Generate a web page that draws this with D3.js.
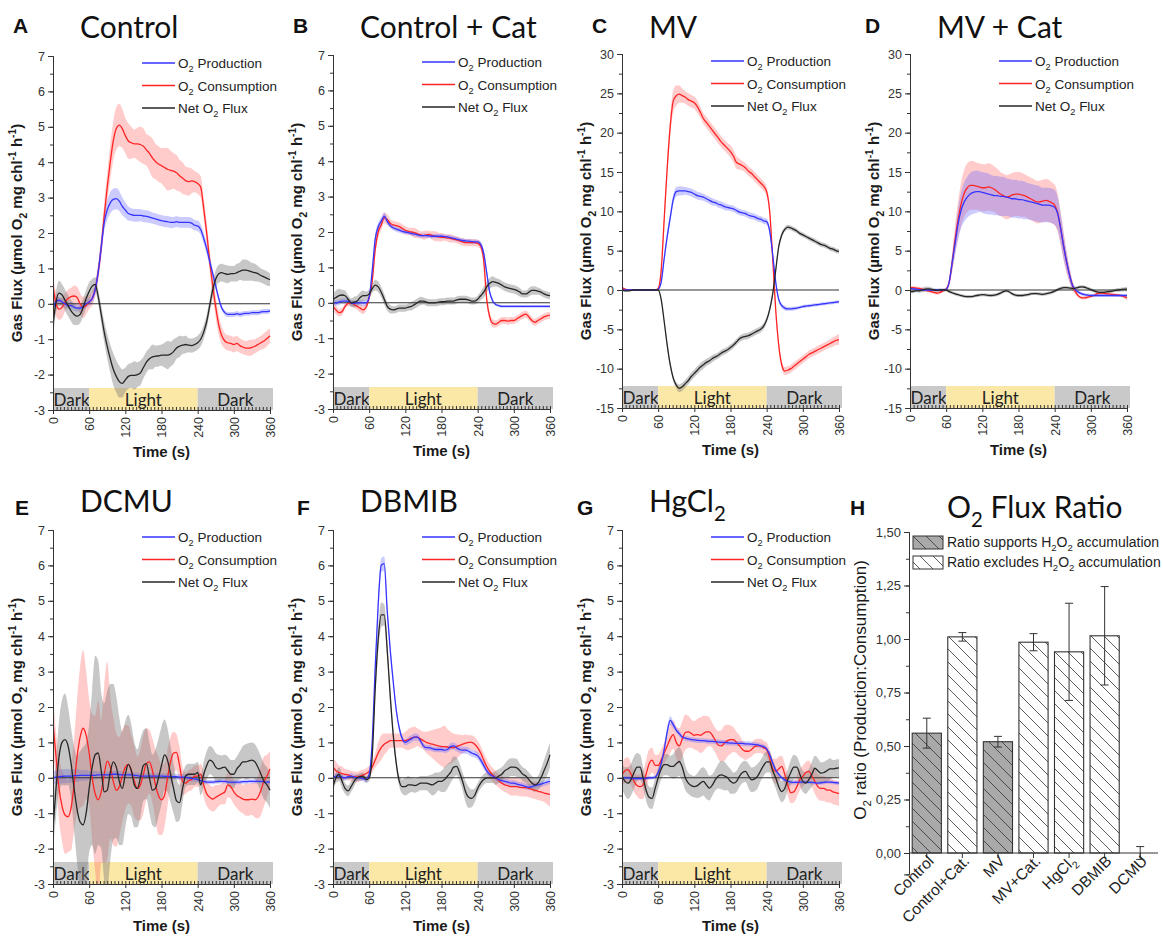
<!DOCTYPE html>
<html><head><meta charset="utf-8">
<script src="https://cdn.jsdelivr.net/npm/d3@7/dist/d3.min.js"></script>
<style>html,body{margin:0;padding:0;background:#fff;}svg{display:block;}</style>
</head><body>
<svg id="chart" width="1163" height="940"></svg>
<script>
// ---------- DATA ----------
const T = d3.range(0, 361, 5);            // time (s), 73 points
const xTickValues = [0, 60, 120, 180, 240, 300, 360];
const phaseLabels = ['Dark', 'Light', 'Dark'];
const phaseStart = [0, 60, 240];
const phaseEnd = [60, 240, 360];
const legendLabels = ['O_{2} Production', 'O_{2} Consumption', 'Net O_{2} Flux'];

// Panel A – Control
const A_prod = [-0.1,0.05,0.1,0.05,0,-0.05,-0.05,-0.1,-0.12,-0.12,-0.08,0,
 0.05,0.15,0.4,0.9,1.6,2.3,2.65,2.85,2.95,2.97,2.9,2.75,
 2.65,2.55,2.52,2.5,2.5,2.5,2.48,2.47,2.45,2.42,2.4,2.37,
 2.35,2.33,2.32,2.3,2.3,2.32,2.3,2.3,2.3,2.3,2.28,2.22,
 2.2,2.1,1.85,1.55,1.2,0.85,0.5,0.15,-0.12,-0.25,-0.3,-0.3,
 -0.3,-0.28,-0.3,-0.28,-0.27,-0.27,-0.25,-0.25,-0.25,-0.23,-0.22,-0.22,
 -0.2];
const A_prodSd = [0.12,0.1,0.1,0.1,0.1,0.1,0.1,0.1,0.1,0.1,0.1,0.1,
 0.1,0.12,0.15,0.2,0.25,0.25,0.28,0.3,0.3,0.3,0.28,0.25,
 0.22,0.2,0.18,0.18,0.18,0.17,0.17,0.17,0.17,0.16,0.16,0.16,
 0.16,0.16,0.16,0.16,0.15,0.15,0.15,0.15,0.15,0.15,0.15,0.15,
 0.15,0.15,0.15,0.15,0.15,0.12,0.1,0.08,0.07,0.07,0.07,0.07,
 0.07,0.07,0.07,0.07,0.07,0.07,0.07,0.07,0.07,0.07,0.07,0.07,
 0.07];
const A_cons = [0.5,0,-0.15,-0.1,0.05,0.15,0.2,0.22,0.18,0,-0.1,-0.05,
 0.05,0.15,0.4,0.9,1.6,2.5,3.3,4.0,4.6,4.95,5.05,4.95,
 4.75,4.6,4.55,4.52,4.52,4.5,4.45,4.35,4.25,4.12,4.02,3.95,
 3.9,3.85,3.8,3.77,3.75,3.7,3.62,3.55,3.48,3.45,3.47,3.45,
 3.4,3.3,2.7,2.0,1.2,0.5,-0.1,-0.6,-0.9,-1.05,-1.1,-1.12,
 -1.15,-1.12,-1.18,-1.22,-1.25,-1.25,-1.23,-1.2,-1.15,-1.1,-1.05,-0.98,
 -0.9];
const A_consSd = [0.2,0.35,0.3,0.3,0.25,0.25,0.25,0.3,0.3,0.3,0.3,0.25,
 0.2,0.2,0.2,0.25,0.3,0.35,0.4,0.5,0.55,0.6,0.6,0.55,
 0.5,0.5,0.45,0.4,0.45,0.5,0.5,0.45,0.5,0.55,0.5,0.5,
 0.5,0.55,0.6,0.55,0.5,0.5,0.45,0.45,0.4,0.4,0.35,0.3,
 0.3,0.3,0.3,0.3,0.3,0.3,0.3,0.28,0.25,0.22,0.22,0.22,
 0.22,0.22,0.2,0.2,0.2,0.22,0.22,0.2,0.2,0.2,0.22,0.22,
 0.2];
const A_net = [-0.6,0.05,0.3,0.25,0.1,-0.05,-0.2,-0.3,-0.35,-0.3,-0.1,0.15,
 0.35,0.5,0.55,0.2,-0.3,-0.8,-1.2,-1.55,-1.85,-2.05,-2.2,-2.25,
 -2.15,-2.05,-2.02,-2.02,-2.0,-1.95,-1.8,-1.65,-1.55,-1.5,-1.48,-1.47,
 -1.45,-1.45,-1.45,-1.42,-1.35,-1.25,-1.2,-1.17,-1.15,-1.17,-1.18,-1.15,
 -1.1,-1.0,-0.8,-0.5,-0.05,0.4,0.7,0.85,0.88,0.85,0.83,0.85,
 0.85,0.88,0.92,0.95,0.95,0.93,0.9,0.88,0.85,0.8,0.76,0.72,
 0.68];
const A_netSd = [0.4,0.3,0.35,0.3,0.3,0.3,0.3,0.3,0.25,0.25,0.25,0.25,
 0.25,0.2,0.2,0.2,0.25,0.3,0.35,0.4,0.45,0.45,0.45,0.4,
 0.35,0.35,0.35,0.4,0.35,0.35,0.3,0.3,0.3,0.35,0.3,0.3,
 0.3,0.35,0.4,0.35,0.35,0.3,0.3,0.25,0.25,0.2,0.2,0.2,
 0.2,0.2,0.2,0.2,0.2,0.22,0.25,0.25,0.25,0.25,0.25,0.22,
 0.22,0.25,0.25,0.3,0.3,0.28,0.25,0.25,0.22,0.2,0.2,0.2,
 0.18];

// Panel B – Control + Cat
const B_prod = [0,0,0.02,0.05,0.05,0.05,0,-0.02,0,0,0,0,
 0.15,0.9,1.8,2.15,2.3,2.45,2.3,2.18,2.12,2.08,2.05,2.02,
 2.0,1.98,1.96,1.94,1.92,1.9,1.9,1.9,1.89,1.88,1.88,1.88,
 1.88,1.87,1.86,1.84,1.82,1.8,1.78,1.76,1.75,1.74,1.73,1.72,
 1.72,1.65,1.4,0.85,0.3,0.05,-0.05,-0.08,-0.1,-0.1,-0.1,-0.1,
 -0.1,-0.1,-0.1,-0.1,-0.1,-0.1,-0.1,-0.1,-0.1,-0.1,-0.1,-0.1,
 -0.1];
const B_prodSd = [0.08,0.08,0.08,0.08,0.08,0.08,0.08,0.08,0.08,0.08,0.08,0.08,
 0.08,0.1,0.12,0.12,0.12,0.1,0.08,0.07,0.07,0.07,0.07,0.07,
 0.06,0.06,0.06,0.06,0.06,0.06,0.06,0.06,0.06,0.06,0.06,0.06,
 0.06,0.06,0.06,0.06,0.06,0.06,0.06,0.06,0.06,0.06,0.06,0.06,
 0.06,0.08,0.1,0.1,0.08,0.05,0.04,0.04,0.04,0.04,0.04,0.04,
 0.04,0.04,0.04,0.04,0.04,0.04,0.04,0.04,0.04,0.04,0.04,0.04,
 0.04];
const B_cons = [-0.1,-0.2,-0.28,-0.25,-0.1,-0.02,0,-0.05,-0.1,-0.15,-0.2,-0.12,
 0.15,0.6,1.5,2.0,2.2,2.4,2.35,2.25,2.2,2.18,2.15,2.1,
 2.05,2.02,2.0,1.98,1.95,1.92,1.9,1.92,1.93,1.9,1.88,1.86,
 1.85,1.85,1.83,1.82,1.8,1.78,1.75,1.72,1.7,1.7,1.7,1.7,
 1.68,1.6,1.2,0.1,-0.4,-0.58,-0.6,-0.55,-0.5,-0.5,-0.52,-0.5,
 -0.5,-0.45,-0.4,-0.35,-0.32,-0.4,-0.5,-0.55,-0.5,-0.45,-0.4,-0.37,
 -0.35];
const B_consSd = [0.12,0.12,0.1,0.1,0.08,0.08,0.08,0.1,0.1,0.12,0.12,0.1,
 0.1,0.12,0.15,0.15,0.15,0.15,0.15,0.12,0.12,0.12,0.12,0.12,
 0.12,0.1,0.12,0.14,0.12,0.1,0.12,0.12,0.1,0.12,0.14,0.12,
 0.12,0.1,0.1,0.12,0.1,0.1,0.1,0.1,0.1,0.1,0.1,0.1,
 0.1,0.12,0.15,0.15,0.12,0.12,0.1,0.1,0.1,0.1,0.1,0.1,
 0.1,0.1,0.1,0.1,0.1,0.1,0.1,0.1,0.1,0.1,0.1,0.1,
 0.1];
const B_net = [0.1,0.15,0.2,0.22,0.2,0.1,0,0.02,0.05,0.15,0.2,0.2,
 0.25,0.4,0.5,0.45,0.3,0.1,-0.1,-0.18,-0.2,-0.18,-0.15,-0.15,
 -0.15,-0.12,-0.1,-0.05,0,0.05,0.05,0.02,0,0,0,0.02,
 0.03,0.03,0.05,0.05,0.05,0.08,0.1,0.1,0.1,0.08,0.05,0.05,
 0.1,0.2,0.3,0.45,0.55,0.6,0.58,0.55,0.5,0.45,0.42,0.4,
 0.38,0.35,0.3,0.25,0.25,0.3,0.35,0.35,0.33,0.3,0.25,0.22,
 0.2];
const B_netSd = [0.15,0.2,0.2,0.15,0.15,0.12,0.12,0.15,0.15,0.15,0.15,0.12,
 0.12,0.12,0.15,0.15,0.15,0.15,0.12,0.12,0.1,0.1,0.1,0.1,
 0.1,0.1,0.12,0.12,0.12,0.12,0.1,0.1,0.1,0.1,0.1,0.1,
 0.1,0.1,0.1,0.1,0.1,0.1,0.1,0.1,0.1,0.1,0.1,0.1,
 0.1,0.12,0.15,0.15,0.15,0.15,0.12,0.12,0.12,0.12,0.12,0.12,
 0.12,0.12,0.12,0.1,0.1,0.12,0.12,0.12,0.1,0.1,0.1,0.1,
 0.1];

// Panel C – MV
const C_prod = [0,0,0,0,0,0,0,0,0,0,0,0,
 0.1,1.0,4.0,6.8,9.2,11.5,12.5,12.6,12.6,12.6,12.5,12.4,
 12.2,12.0,11.9,11.8,11.6,11.4,11.2,11.1,10.9,10.8,10.6,10.5,
 10.4,10.3,10.1,9.9,9.8,9.7,9.5,9.4,9.3,9.1,9.0,8.8,
 8.7,7.5,4.5,1.0,-1.2,-2.0,-2.3,-2.4,-2.4,-2.35,-2.3,-2.2,
 -2.1,-2.05,-2.0,-1.95,-1.9,-1.85,-1.8,-1.75,-1.7,-1.65,-1.6,-1.55,
 -1.5];
const C_prodSd = [0.1,0.1,0.1,0.1,0.1,0.1,0.1,0.1,0.1,0.1,0.1,0.1,
 0.1,0.3,0.5,0.6,0.6,0.6,0.6,0.6,0.55,0.5,0.5,0.5,
 0.5,0.5,0.5,0.45,0.45,0.45,0.45,0.4,0.45,0.45,0.45,0.4,
 0.4,0.4,0.4,0.4,0.4,0.4,0.4,0.4,0.4,0.4,0.4,0.4,
 0.4,0.4,0.4,0.3,0.3,0.3,0.3,0.25,0.25,0.25,0.2,0.2,
 0.2,0.2,0.2,0.2,0.2,0.2,0.2,0.2,0.2,0.2,0.2,0.2,
 0.2];
const C_cons = [0.3,0.1,0,0,0,0,0,0,0,0,0,0,
 0.2,2.5,9.0,15.5,20.8,24.0,24.7,24.9,24.7,24.5,24.2,24.0,
 23.8,23.3,22.6,21.8,21.3,20.8,20.3,19.8,19.3,18.8,18.4,18.0,
 17.6,17.0,16.2,16.0,15.8,15.5,15.1,14.8,14.4,14.0,13.6,13.2,
 12.5,10.0,4.0,-2.5,-7.0,-9.5,-10.3,-10.2,-10.0,-9.7,-9.4,-9.1,
 -8.8,-8.5,-8.2,-8.0,-7.8,-7.6,-7.4,-7.2,-7.0,-6.8,-6.6,-6.4,
 -6.3];
const C_consSd = [0.2,0.1,0.1,0.1,0.1,0.1,0.1,0.1,0.1,0.1,0.1,0.1,
 0.1,0.5,1.0,1.2,1.3,1.4,1.3,1.1,0.9,0.8,0.8,0.8,
 0.8,0.8,0.7,0.7,0.7,0.7,0.7,0.7,0.7,0.7,0.7,0.7,
 0.8,0.8,0.8,0.7,0.6,0.6,0.6,0.6,0.6,0.6,0.6,0.6,
 0.6,0.6,0.6,0.6,0.6,0.5,0.5,0.5,0.5,0.5,0.5,0.5,
 0.5,0.5,0.5,0.5,0.5,0.5,0.5,0.5,0.5,0.5,0.6,0.6,
 0.7];
const C_net = [0,-0.1,-0.1,-0.05,0,0,0,0,0,0,0,0,
 0,-1.2,-4.0,-7.0,-9.5,-11.2,-12.1,-12.5,-12.3,-11.9,-11.5,-11.0,
 -10.6,-10.2,-9.8,-9.5,-9.2,-9.0,-8.7,-8.5,-8.3,-8.0,-7.8,-7.6,
 -7.3,-7.0,-6.6,-6.2,-6.0,-5.9,-5.8,-5.6,-5.4,-5.2,-5.0,-4.6,
 -3.8,-2.5,-0.5,2.5,5.5,7.0,7.7,8.0,7.9,7.7,7.5,7.2,
 7.0,6.8,6.6,6.4,6.2,6.0,5.8,5.7,5.5,5.3,5.2,5.0,
 4.9];
const C_netSd = [0.1,0.1,0.1,0.1,0.1,0.1,0.1,0.1,0.1,0.1,0.1,0.1,
 0.1,0.2,0.3,0.4,0.4,0.4,0.4,0.5,0.5,0.5,0.5,0.5,
 0.5,0.5,0.5,0.5,0.45,0.45,0.45,0.4,0.4,0.4,0.4,0.4,
 0.4,0.4,0.4,0.4,0.4,0.4,0.4,0.4,0.4,0.4,0.4,0.4,
 0.4,0.4,0.4,0.4,0.4,0.35,0.3,0.3,0.3,0.3,0.3,0.3,
 0.3,0.3,0.3,0.3,0.3,0.3,0.3,0.3,0.3,0.3,0.3,0.3,
 0.3];

// Panel D – MV + Cat
const D_prod = [0.2,0.15,0.1,0.05,0,0,0,0,0,0,0,0,
 0.1,1.0,3.5,6.0,8.5,10.2,11.2,11.8,12.2,12.4,12.5,12.5,
 12.4,12.3,12.2,12.1,12.0,12.0,11.9,11.9,11.8,11.7,11.6,11.6,
 11.5,11.5,11.4,11.3,11.2,11.1,11.0,10.9,10.8,10.8,10.8,10.7,
 10.5,9.7,7.8,5.5,3.5,1.8,0.5,0,-0.3,-0.5,-0.6,-0.65,
 -0.7,-0.7,-0.7,-0.7,-0.7,-0.7,-0.7,-0.7,-0.7,-0.7,-0.7,-0.7,
 -0.7];
const D_prodSd = [0.15,0.15,0.15,0.15,0.15,0.15,0.15,0.15,0.15,0.15,0.15,0.15,
 0.15,0.4,1.0,1.5,2.0,2.3,2.5,2.6,2.7,2.7,2.7,2.6,
 2.6,2.6,2.6,2.5,2.5,2.5,2.5,2.5,2.4,2.4,2.4,2.4,
 2.4,2.4,2.4,2.3,2.3,2.3,2.3,2.3,2.2,2.2,2.2,2.2,
 2.2,2.1,1.9,1.6,1.2,0.8,0.5,0.3,0.2,0.2,0.2,0.2,
 0.2,0.2,0.2,0.2,0.2,0.2,0.2,0.2,0.2,0.2,0.2,0.2,
 0.2];
const D_cons = [0.3,0.3,0.25,0.2,0.1,0,-0.1,-0.2,-0.3,-0.4,-0.3,-0.1,
 0.1,1.0,3.5,6.5,9.0,11.0,12.3,13.0,13.3,13.3,13.2,13.1,
 13.0,13.0,13.1,13.0,12.8,12.5,12.2,12.0,11.8,11.9,12.1,12.2,
 12.2,12.1,12.0,11.8,11.6,11.4,11.2,11.2,11.3,11.4,11.3,11.1,
 10.8,9.8,7.8,5.5,3.5,1.8,0.5,-0.3,-0.8,-1.0,-1.0,-0.9,
 -0.8,-0.7,-0.5,-0.4,-0.4,-0.45,-0.5,-0.55,-0.6,-0.65,-0.7,-0.85,
 -1.0];
const D_consSd = [0.2,0.2,0.2,0.2,0.2,0.2,0.2,0.2,0.2,0.2,0.2,0.2,
 0.2,0.5,1.2,1.8,2.4,2.8,3.0,3.1,3.1,3.1,3.0,3.0,
 3.0,3.0,3.0,3.0,2.9,2.9,2.8,2.8,2.8,2.8,2.8,2.8,
 2.8,2.8,2.7,2.7,2.7,2.7,2.7,2.7,2.7,2.7,2.7,2.6,
 2.6,2.4,2.1,1.8,1.4,1.0,0.6,0.3,0.2,0.2,0.2,0.2,
 0.2,0.2,0.2,0.2,0.2,0.2,0.2,0.2,0.2,0.2,0.2,0.2,
 0.3];
const D_net = [-0.2,-0.2,-0.1,-0.1,0,0.1,0.15,0.1,0,-0.05,0,0,
 0,-0.2,-0.35,-0.5,-0.6,-0.7,-0.8,-0.85,-0.85,-0.8,-0.7,-0.65,
 -0.6,-0.62,-0.68,-0.7,-0.65,-0.55,-0.4,-0.2,-0.1,-0.25,-0.5,-0.65,
 -0.7,-0.7,-0.65,-0.6,-0.5,-0.45,-0.45,-0.5,-0.55,-0.5,-0.4,-0.3,
 -0.15,0.05,0.2,0.3,0.3,0.25,0.2,0.25,0.35,0.4,0.35,0.2,
 0.05,-0.1,-0.25,-0.3,-0.3,-0.25,-0.2,-0.15,-0.05,0,0.05,0.1,
 0.1];
const D_netSd = [0.2,0.2,0.2,0.25,0.3,0.3,0.3,0.25,0.2,0.2,0.2,0.2,
 0.2,0.2,0.2,0.2,0.2,0.2,0.2,0.2,0.2,0.2,0.2,0.2,
 0.2,0.2,0.2,0.2,0.2,0.2,0.2,0.2,0.2,0.2,0.2,0.2,
 0.2,0.2,0.2,0.2,0.2,0.2,0.2,0.2,0.2,0.2,0.2,0.2,
 0.2,0.2,0.2,0.2,0.2,0.2,0.2,0.2,0.2,0.2,0.2,0.2,
 0.2,0.2,0.2,0.2,0.2,0.2,0.2,0.2,0.2,0.25,0.25,0.25,
 0.3];

// Panel E – DCMU
const E_prod = [0,0.02,0.03,0.04,0.05,0.05,0.05,0.06,0.06,0.07,0.07,0.07,
 0.07,0.07,0.07,0.08,0.08,0.08,0.08,0.09,0.1,0.1,0.09,0.08,
 0.08,0.08,0.08,0.07,0.06,0.05,0.05,0.05,0.05,0.05,0.05,0.05,
 0.05,0.04,0.04,0.04,0.03,0.03,0.02,0.02,0.02,0,-0.02,-0.03,
 -0.05,-0.08,-0.1,-0.12,-0.12,-0.12,-0.11,-0.1,-0.1,-0.1,-0.12,-0.12,
 -0.13,-0.12,-0.12,-0.11,-0.11,-0.1,-0.1,-0.1,-0.1,-0.1,-0.11,-0.12,
 -0.12];
const E_prodSd = [0.15,0.2,0.2,0.2,0.2,0.2,0.18,0.18,0.18,0.15,0.15,0.15,
 0.12,0.12,0.12,0.1,0.1,0.1,0.1,0.1,0.1,0.1,0.1,0.1,
 0.08,0.08,0.08,0.08,0.08,0.08,0.08,0.08,0.08,0.08,0.08,0.08,
 0.08,0.08,0.08,0.08,0.08,0.08,0.08,0.08,0.08,0.08,0.08,0.08,
 0.06,0.06,0.06,0.06,0.06,0.06,0.06,0.06,0.06,0.06,0.06,0.06,
 0.06,0.06,0.06,0.06,0.06,0.06,0.06,0.06,0.06,0.06,0.06,0.06,
 0.06];
const E_cons = [1.55,0.6,-0.3,-0.8,-1.05,-1.1,-0.85,-0.2,0.6,1.15,1.4,1.2,
 0.7,0,-0.45,-0.62,-0.4,0.1,0.47,0.3,-0.1,-0.35,-0.25,0.05,
 0.3,0.38,0.2,-0.1,-0.3,-0.2,0.1,0.4,0.45,0.2,-0.2,-0.5,
 -0.62,-0.5,0,0.45,0.7,0.72,0.35,-0.1,-0.15,-0.08,-0.05,0.05,
 0.05,0.1,-0.2,-0.45,-0.55,-0.6,-0.55,-0.5,-0.45,-0.4,-0.2,-0.25,
 -0.4,-0.5,-0.55,-0.6,-0.62,-0.62,-0.6,-0.62,-0.55,-0.35,-0.1,0.05,
 0.25];
const E_consSd = [0.8,0.7,0.9,1.0,1.1,1.0,1.2,1.3,1.6,2.0,2.2,1.8,
 1.5,1.8,2.2,2.8,2.0,2.5,2.8,2.0,1.8,1.6,1.4,1.3,
 1.2,1.1,1.0,1.0,0.9,1.0,1.1,1.0,0.9,0.9,1.0,1.1,
 1.0,0.9,0.8,0.7,0.6,0.5,0.5,0.4,0.3,0.3,0.3,0.3,
 0.3,0.3,0.35,0.35,0.35,0.35,0.35,0.3,0.3,0.35,0.35,0.35,
 0.35,0.35,0.4,0.4,0.45,0.45,0.45,0.5,0.6,0.7,0.7,0.6,
 0.5];
const E_net = [-1.45,-0.3,0.6,1.0,1.08,0.9,0.4,-0.3,-0.9,-1.25,-1.33,-1.0,
 -0.3,0.3,0.65,0.7,0.2,-0.4,-0.35,0.15,0.45,0.3,-0.1,-0.3,
 0.1,0.38,0.2,-0.2,-0.3,0,0.35,0.4,0,-0.35,-0.3,0,
 0.35,0.65,0.5,0.1,-0.3,-0.65,-0.7,-0.3,0.05,0.1,0.1,0.1,
 0.15,-0.2,0.1,0.35,0.5,0.45,0.3,0.25,0.28,0.3,0.2,0.1,
 0.1,0.25,0.35,0.45,0.45,0.48,0.5,0.45,0.3,0.1,-0.1,-0.2,
 -0.35];
const E_netSd = [0.6,0.8,1.0,1.2,1.3,1.1,1.0,1.2,1.5,2.0,2.2,2.0,
 1.8,2.2,2.8,2.6,2.2,2.5,2.8,2.5,2.2,2.0,1.8,1.6,
 1.5,1.4,1.3,1.2,1.1,1.1,1.0,1.0,1.0,1.0,1.1,1.1,
 1.1,1.0,0.9,0.8,0.7,0.6,0.5,0.4,0.3,0.3,0.3,0.3,
 0.3,0.3,0.35,0.4,0.4,0.4,0.4,0.4,0.35,0.35,0.4,0.4,
 0.4,0.35,0.4,0.45,0.5,0.5,0.5,0.5,0.5,0.5,0.5,0.5,
 0.5];

// Panel F – DBMIB
const F_prod = [0,0.05,0.05,0.02,0,0.03,0.05,0.02,0,0,-0.02,-0.05,
 0.1,1.0,3.1,4.9,6.0,6.05,4.7,3.6,2.7,1.9,1.4,1.1,
 1.0,1.05,1.1,1.15,1.15,1.05,0.9,0.85,0.85,0.82,0.8,0.8,
 0.8,0.78,0.8,0.88,0.9,0.85,0.8,0.78,0.78,0.75,0.7,0.67,
 0.62,0.5,0.35,0.2,0.1,0.05,0,-0.05,-0.08,-0.1,-0.12,-0.15,
 -0.15,-0.18,-0.2,-0.22,-0.25,-0.27,-0.25,-0.22,-0.2,-0.18,-0.15,-0.12,
 -0.1];
const F_prodSd = [0.08,0.08,0.08,0.08,0.08,0.08,0.08,0.08,0.08,0.08,0.08,0.08,
 0.08,0.1,0.15,0.2,0.2,0.2,0.15,0.12,0.1,0.1,0.08,0.08,
 0.08,0.1,0.1,0.1,0.1,0.08,0.08,0.08,0.08,0.08,0.08,0.08,
 0.08,0.08,0.08,0.1,0.1,0.1,0.1,0.1,0.1,0.1,0.1,0.1,
 0.1,0.1,0.1,0.08,0.08,0.08,0.08,0.08,0.08,0.08,0.08,0.08,
 0.08,0.08,0.08,0.08,0.08,0.08,0.08,0.08,0.08,0.08,0.08,0.08,
 0.08];
const F_cons = [0.3,0.2,0.15,0.12,0.1,0.08,0.05,0.03,0.02,0.05,0.08,0.12,
 0.18,0.3,0.5,0.7,0.85,0.95,1.0,1.05,1.05,1.05,1.05,1.05,
 1.05,1.08,1.12,1.15,1.15,1.1,1.05,1.0,0.97,0.95,0.92,0.9,
 0.88,0.88,0.87,0.85,0.85,0.88,0.92,0.95,0.98,1.0,1.0,0.95,
 0.85,0.7,0.5,0.32,0.18,0.08,0,-0.08,-0.15,-0.2,-0.22,-0.25,
 -0.25,-0.25,-0.27,-0.28,-0.28,-0.3,-0.33,-0.35,-0.38,-0.4,-0.43,-0.45,
 -0.47];
const F_consSd = [0.25,0.25,0.2,0.2,0.15,0.15,0.15,0.15,0.15,0.15,0.15,0.15,
 0.15,0.15,0.2,0.3,0.35,0.3,0.25,0.2,0.2,0.2,0.2,0.2,
 0.25,0.3,0.3,0.3,0.25,0.25,0.25,0.3,0.35,0.4,0.45,0.5,
 0.55,0.6,0.5,0.45,0.4,0.35,0.3,0.25,0.25,0.2,0.2,0.2,
 0.2,0.2,0.2,0.2,0.2,0.2,0.2,0.2,0.2,0.2,0.22,0.25,
 0.25,0.25,0.25,0.25,0.25,0.25,0.25,0.25,0.25,0.25,0.25,0.3,
 0.35];
const F_net = [-0.25,0,0.1,-0.1,-0.3,-0.37,-0.25,-0.1,0,0.03,0.05,-0.05,
 0,0.6,2.5,3.9,4.6,4.6,3.6,2.3,1.2,0.4,-0.1,-0.25,
 -0.25,-0.2,-0.2,-0.22,-0.2,-0.15,-0.15,-0.15,-0.18,-0.2,-0.15,-0.1,
 -0.1,-0.05,0.05,0.15,0.3,0.32,0.15,-0.1,-0.4,-0.55,-0.58,-0.5,
 -0.3,-0.15,-0.05,0,0,0,0,0.05,0.1,0.2,0.25,0.3,
 0.3,0.28,0.2,0.1,0.05,-0.05,-0.15,-0.2,-0.15,0,0.2,0.4,
 0.65];
const F_netSd = [0.15,0.15,0.2,0.2,0.15,0.15,0.15,0.15,0.1,0.1,0.1,0.1,
 0.1,0.15,0.3,0.35,0.35,0.3,0.25,0.2,0.15,0.15,0.15,0.2,
 0.25,0.25,0.2,0.2,0.2,0.2,0.2,0.2,0.25,0.3,0.3,0.25,
 0.3,0.35,0.35,0.3,0.3,0.25,0.25,0.25,0.3,0.3,0.25,0.2,
 0.15,0.15,0.15,0.15,0.15,0.15,0.2,0.2,0.2,0.2,0.25,0.25,
 0.25,0.25,0.2,0.2,0.2,0.2,0.2,0.2,0.2,0.25,0.3,0.35,
 0.35];

// Panel G – HgCl2
const G_prod = [0,0,0,-0.02,-0.02,-0.02,-0.02,-0.02,-0.02,0,0,0.02,
 0.15,0.4,0.8,1.3,1.62,1.5,1.35,1.25,1.15,1.12,1.1,1.08,
 1.07,1.06,1.05,1.05,1.04,1.03,1.03,1.02,1.01,1.0,1.0,0.99,
 0.98,0.98,0.97,0.97,0.97,0.96,0.96,0.95,0.94,0.93,0.9,0.88,
 0.82,0.65,0.42,0.22,0.1,0,-0.06,-0.1,-0.12,-0.13,-0.13,-0.12,
 -0.12,-0.12,-0.13,-0.13,-0.14,-0.15,-0.14,-0.13,-0.12,-0.12,-0.13,-0.14,
 -0.15];
const G_prodSd = [0.05,0.05,0.05,0.05,0.05,0.05,0.05,0.05,0.05,0.05,0.05,0.05,
 0.05,0.08,0.1,0.12,0.12,0.1,0.08,0.08,0.07,0.07,0.07,0.07,
 0.07,0.07,0.07,0.07,0.07,0.07,0.07,0.07,0.07,0.07,0.07,0.07,
 0.07,0.07,0.07,0.07,0.07,0.07,0.07,0.07,0.07,0.07,0.07,0.07,
 0.06,0.06,0.06,0.06,0.06,0.06,0.06,0.06,0.06,0.06,0.06,0.06,
 0.05,0.05,0.05,0.05,0.05,0.05,0.05,0.05,0.05,0.05,0.05,0.05,
 0.05];
const G_cons = [0.08,0.2,0.23,0.1,-0.1,-0.22,-0.25,-0.2,0.1,0.4,0.5,0.35,
 0.35,0.5,0.7,0.9,1.1,1.22,1.0,0.9,1.1,1.28,1.3,1.25,
 1.2,1.22,1.2,1.25,1.3,1.3,1.2,1.05,0.92,0.9,0.98,1.05,
 1.08,1.08,1.0,0.9,0.8,0.75,0.75,0.8,0.88,0.9,0.9,0.85,
 0.8,0.55,0.25,0.18,0.25,0.32,0.1,-0.2,-0.42,-0.4,-0.25,-0.05,
 0.04,0.15,0.18,0.05,-0.1,-0.25,-0.3,-0.3,-0.35,-0.35,-0.4,-0.42,
 -0.45];
const G_consSd = [0.3,0.35,0.35,0.3,0.3,0.3,0.35,0.4,0.4,0.4,0.35,0.3,
 0.3,0.3,0.3,0.35,0.4,0.4,0.45,0.5,0.5,0.5,0.45,0.4,
 0.4,0.45,0.5,0.5,0.45,0.4,0.35,0.35,0.4,0.45,0.5,0.45,
 0.4,0.35,0.3,0.3,0.25,0.25,0.2,0.2,0.2,0.2,0.2,0.2,
 0.2,0.25,0.3,0.35,0.35,0.3,0.3,0.3,0.3,0.3,0.3,0.3,
 0.3,0.3,0.3,0.3,0.35,0.35,0.35,0.35,0.35,0.35,0.35,0.35,
 0.35];
const G_net = [0.04,-0.1,-0.15,-0.05,0.15,0.3,0.3,0,-0.35,-0.55,-0.58,-0.3,
 0,0.25,0.37,0.37,0.32,0.32,0.4,0.46,0.3,0,-0.15,-0.22,
 -0.25,-0.22,-0.15,-0.1,-0.2,-0.29,-0.2,-0.05,0.05,0.08,0.05,0,
 -0.1,-0.15,-0.1,0.05,0.15,0.18,0.05,-0.06,-0.03,0.05,0.2,0.35,
 0.45,0.45,0.2,0,-0.25,-0.39,-0.3,-0.05,0.15,0.3,0.3,0.1,
 -0.1,-0.15,-0.05,0.1,0.27,0.2,0.13,0.15,0.2,0.25,0.25,0.27,
 0.28];
const G_netSd = [0.35,0.4,0.45,0.45,0.45,0.4,0.35,0.3,0.3,0.3,0.3,0.3,
 0.3,0.3,0.3,0.3,0.3,0.35,0.4,0.4,0.4,0.35,0.3,0.3,
 0.3,0.35,0.4,0.4,0.4,0.35,0.3,0.3,0.35,0.4,0.4,0.35,
 0.35,0.3,0.3,0.3,0.3,0.3,0.35,0.35,0.35,0.35,0.3,0.3,
 0.3,0.3,0.3,0.3,0.3,0.3,0.3,0.3,0.35,0.35,0.3,0.3,
 0.3,0.3,0.3,0.35,0.35,0.35,0.3,0.3,0.3,0.3,0.25,0.25,
 0.25];

// Panel H – O2 flux ratio
const ratioCategories = ['Control', 'Control+Cat.', 'MV', 'MV+Cat.', 'HgCl_{2}', 'DBMIB', 'DCMU'];
const ratioValues = [0.56, 1.01, 0.52, 0.985, 0.94, 1.015, 0.0];
const ratioErrors = [0.07, 0.02, 0.025, 0.04, 0.227, 0.23, 0.03];
const ratioGroups = ['supports', 'excludes', 'supports', 'excludes', 'excludes', 'excludes', 'excludes'];
const ratioLegend = ['Ratio supports H_{2}O_{2} accumulation', 'Ratio excludes H_{2}O_{2} accumulation'];
const ratioTicks = [0, 0.25, 0.5, 0.75, 1.0, 1.25, 1.5];

// ---------- PANEL TABLE ----------
const panels = [
  {id:'A', title:'Control',       yDom:[-3,7],   major:1, minor:0.5, prod:A_prod, prodSd:A_prodSd, cons:A_cons, consSd:A_consSd, net:A_net, netSd:A_netSd},
  {id:'B', title:'Control + Cat', yDom:[-3,7],   major:1, minor:0.5, prod:B_prod, prodSd:B_prodSd, cons:B_cons, consSd:B_consSd, net:B_net, netSd:B_netSd},
  {id:'C', title:'MV',            yDom:[-15,30], major:5, minor:2.5, prod:C_prod, prodSd:C_prodSd, cons:C_cons, consSd:C_consSd, net:C_net, netSd:C_netSd},
  {id:'D', title:'MV + Cat',      yDom:[-15,30], major:5, minor:2.5, prod:D_prod, prodSd:D_prodSd, cons:D_cons, consSd:D_consSd, net:D_net, netSd:D_netSd},
  {id:'E', title:'DCMU',          yDom:[-3,7],   major:1, minor:0.5, prod:E_prod, prodSd:E_prodSd, cons:E_cons, consSd:E_consSd, net:E_net, netSd:E_netSd},
  {id:'F', title:'DBMIB',         yDom:[-3,7],   major:1, minor:0.5, prod:F_prod, prodSd:F_prodSd, cons:F_cons, consSd:F_consSd, net:F_net, netSd:F_netSd},
  {id:'G', title:'HgCl_{2}',      yDom:[-3,7],   major:1, minor:0.5, prod:G_prod, prodSd:G_prodSd, cons:G_cons, consSd:G_consSd, net:G_net, netSd:G_netSd}
];
const layout = {
  A:{left:53,  top:56,  letterX:13,  letterY:33,  titleY:38},
  B:{left:333, top:55,  letterX:293, letterY:33,  titleY:38},
  C:{left:622, top:54,  letterX:592, letterY:33,  titleY:38},
  D:{left:910, top:54,  letterX:865, letterY:33,  titleY:38},
  E:{left:53,  top:530, letterX:15,  letterY:515, titleY:512},
  F:{left:333, top:530, letterX:297, letterY:515, titleY:512},
  G:{left:622, top:530, letterX:577, letterY:515, titleY:512}
};

// ---------- RENDER ----------
const svg = d3.select('#chart');
const AX = '"Liberation Sans", Arial, Helvetica, sans-serif';
const CAL = 'Lato, "Open Sans", sans-serif';
const W = 217, H = 354;
const lineColor = {prod:'#3535ff', cons:'#ff2424', net:'#262626'};
const bandColor = {prod:'#6a6aff', cons:'#ff6a6a', net:'#7a7a7a'};
const bandOpacity = {prod:0.35, cons:0.35, net:0.42};

function rich(t, str, fs) {
  const re = /([_^])\{([^}]*)\}/g;
  let last = 0, m, off = 0;
  const add = (txt, kind) => {
    const target = kind === '_' ? fs * 0.3 : kind === '^' ? -fs * 0.42 : 0;
    const ts = t.append('tspan').text(txt).attr('dy', target - off);
    if (kind) ts.attr('font-size', fs * 0.68);
    off = target;
  };
  while ((m = re.exec(str))) {
    if (m.index > last) add(str.slice(last, m.index), null);
    add(m[2], m[1]);
    last = re.lastIndex;
  }
  if (last < str.length) add(str.slice(last), null);
  return t;
}
function styleAxis(g, fs) {
  g.select('.domain').attr('stroke', '#333').attr('stroke-width', 1);
  g.selectAll('.tick line').attr('stroke', '#333');
  g.selectAll('text').attr('font-family', AX).attr('font-size', fs).attr('fill', '#333');
}
const fmtNum = d => (d < 0 ? '-' : '') + Math.abs(d);

// sanity check of array lengths
panels.forEach(p => ['prod','prodSd','cons','consSd','net','netSd'].forEach(k => {
  if (p[k].length !== T.length) svg.append('text').attr('x', 10).attr('y', 930).attr('fill','red').text(p.id + k + ' len ' + p[k].length);
}));

panels.forEach(p => {
  const L = layout[p.id];
  const bottom = L.top + H;
  const x = d3.scaleLinear().domain([0, 360]).range([L.left, L.left + W]);
  const y = d3.scaleLinear().domain(p.yDom).range([bottom, L.top]);
  const g = svg.append('g');

  // phase bar
  phaseLabels.forEach((lab, i) => {
    const x0 = x(phaseStart[i]) + (i === 0 ? 1 : 0);
    const x1 = x(phaseEnd[i]) + (i === phaseLabels.length - 1 ? 3 : 0);
    g.append('rect').attr('x', x0).attr('y', bottom - 22).attr('width', x1 - x0).attr('height', 22)
      .attr('fill', lab === 'Light' ? '#fbe8a6' : '#c9c9c9');
    g.append('text').attr('x', (x0 + x1) / 2).attr('y', bottom - 4).attr('text-anchor', 'middle')
      .attr('font-family', CAL).attr('font-size', 17).attr('fill', '#222').text(lab);
  });

  const clipId = 'clip' + p.id;
  svg.append('clipPath').attr('id', clipId).append('rect')
    .attr('x', L.left).attr('y', L.top - 4).attr('width', W + 4).attr('height', H + 4);
  const plot = g.append('g').attr('clip-path', `url(#${clipId})`);

  const series = [
    {key:'cons', m:p.cons, s:p.consSd},
    {key:'prod', m:p.prod, s:p.prodSd},
    {key:'net',  m:p.net,  s:p.netSd}
  ];
  series.forEach(se => {
    const area = d3.area().x((d, i) => x(T[i]))
      .y0((d, i) => y(se.m[i] - se.s[i])).y1((d, i) => y(se.m[i] + se.s[i]))
      .curve(d3.curveMonotoneX);
    plot.append('path').attr('d', area(se.m)).attr('fill', bandColor[se.key]).attr('fill-opacity', bandOpacity[se.key]);
  });
  // zero line
  plot.append('line').attr('x1', x(0)).attr('x2', x(360)).attr('y1', y(0)).attr('y2', y(0))
    .attr('stroke', '#333').attr('stroke-width', 1.1);
  series.forEach(se => {
    const line = d3.line().x((d, i) => x(T[i])).y(d => y(d)).curve(d3.curveMonotoneX);
    plot.append('path').attr('d', line(se.m)).attr('fill', 'none')
      .attr('stroke', lineColor[se.key]).attr('stroke-width', 1.3);
  });

  // axes
  const yMinor = g.append('g').attr('transform', `translate(${L.left},0)`)
    .call(d3.axisLeft(y).tickValues(d3.range(p.yDom[0], p.yDom[1] + 1e-9, p.minor)).tickSize(3).tickFormat(''));
  styleAxis(yMinor, 12.5);
  const yMajor = g.append('g').attr('transform', `translate(${L.left},0)`)
    .call(d3.axisLeft(y).tickValues(d3.range(p.yDom[0], p.yDom[1] + 1e-9, p.major)).tickSize(5).tickPadding(3).tickFormat(fmtNum));
  styleAxis(yMajor, 12.5);
  const xMinor = g.append('g').attr('transform', `translate(0,${bottom})`)
    .call(d3.axisBottom(x).tickValues(d3.range(0, 361, 6)).tickSize(-3).tickFormat(''));
  styleAxis(xMinor, 12.5);
  const xMajor = g.append('g').attr('transform', `translate(0,${bottom})`)
    .call(d3.axisBottom(x).tickValues(xTickValues).tickSize(4).tickFormat(d => d));
  styleAxis(xMajor, 12.5);
  xMajor.selectAll('.tick text').attr('transform', 'rotate(-90)').attr('x', -7).attr('y', 0)
    .attr('dy', '0.35em').attr('text-anchor', 'end');

  // axis titles
  g.append('text').attr('x', L.left + W / 2).attr('y', bottom + 47).attr('text-anchor', 'middle')
    .attr('font-family', AX).attr('font-size', 15).attr('font-weight', 'bold').attr('fill', '#1a1a1a').text('Time (s)');
  const yt = g.append('text').attr('transform', `translate(${L.left - 31},${L.top + H / 2}) rotate(-90)`)
    .attr('text-anchor', 'middle').attr('font-family', AX).attr('font-size', 15).attr('font-weight', 'bold').attr('fill', '#1a1a1a');
  rich(yt, 'Gas Flux (µmol O_{2} mg chl^{-1} h^{-1})', 15);

  // legend
  ['prod', 'cons', 'net'].forEach((k, i) => {
    const ly = L.top + 7 + i * 22.5;
    const lx = L.left + 89;
    g.append('line').attr('x1', lx).attr('x2', lx + 33).attr('y1', ly).attr('y2', ly)
      .attr('stroke', lineColor[k]).attr('stroke-width', 1.5);
    const t = g.append('text').attr('x', lx + 36).attr('y', ly + 5).attr('font-family', AX)
      .attr('font-size', 13.5).attr('fill', '#222');
    rich(t, legendLabels[i], 13.5);
  });

  // titles
  const tt = g.append('text').attr('x', L.left + 27).attr('y', L.titleY).attr('font-family', CAL)
    .attr('font-size', 30).attr('fill', '#111');
  rich(tt, p.title, 30);
  g.append('text').attr('x', L.letterX).attr('y', L.letterY).attr('font-family', AX)
    .attr('font-size', 21).attr('font-weight', 'bold').attr('fill', '#111').text(p.id);
});

// ---------- PANEL H ----------
(function () {
  const left = 909, right = 1158;
  const hx = d3.scaleBand().domain(ratioCategories).range([left, right]).paddingInner(0.18).paddingOuter(0.09);
  const hy = d3.scaleLinear().domain([-0.1, 1.5]).range([874.4, 532]);
  const defs = svg.append('defs');
  const patFill = {supports:'#a9a9a9', excludes:'#ffffff'};
  Object.keys(patFill).forEach(k => {
    const pat = defs.append('pattern').attr('id', 'hatch-' + k).attr('patternUnits', 'userSpaceOnUse')
      .attr('width', 13).attr('height', 13);
    pat.append('rect').attr('width', 13).attr('height', 13).attr('fill', patFill[k]);
    pat.append('path').attr('d', 'M-3,-3L16,16M-3,10L3,16M10,-3L16,3').attr('stroke', '#333').attr('stroke-width', 0.8);
  });
  const g = svg.append('g');
  ratioCategories.forEach((c, i) => {
    const v = ratioValues[i];
    if (v > 0) {
      g.append('rect').attr('x', hx(c)).attr('y', hy(v)).attr('width', hx.bandwidth()).attr('height', hy(0) - hy(v))
        .attr('fill', `url(#hatch-${ratioGroups[i]})`).attr('stroke', '#333').attr('stroke-width', 1.1);
    }
  });
  // axes
  const yMinor = g.append('g').attr('transform', `translate(${left},0)`)
    .call(d3.axisLeft(hy).tickValues(d3.range(0, 1.5001, 0.125)).tickSize(3).tickFormat(''));
  styleAxis(yMinor, 13);
  const yMajor = g.append('g').attr('transform', `translate(${left},0)`)
    .call(d3.axisLeft(hy).tickValues(ratioTicks).tickSize(5).tickPadding(3).tickFormat(d => d3.format('.2f')(d).replace('.', ',')));
  styleAxis(yMajor, 13);
  g.append('line').attr('x1', left).attr('x2', right).attr('y1', hy(0)).attr('y2', hy(0)).attr('stroke', '#333');
  ratioCategories.forEach((c, i) => {
    const cx = hx(c) + hx.bandwidth() / 2;
    g.append('line').attr('x1', cx).attr('x2', cx).attr('y1', hy(0)).attr('y2', hy(0) + 5).attr('stroke', '#333');
    const t = g.append('text').attr('transform', `translate(${cx + 8},${hy(0) + 9}) rotate(-45)`)
      .attr('text-anchor', 'end').attr('dy', '0.75em').attr('font-family', AX).attr('font-size', 15.5).attr('fill', '#222');
    rich(t, c, 15.5);
    // error bars
    const v = ratioValues[i], e = ratioErrors[i];
    g.append('line').attr('x1', cx).attr('x2', cx).attr('y1', hy(v - e)).attr('y2', hy(v + e)).attr('stroke', '#333');
    [v - e, v + e].forEach(b => g.append('line').attr('x1', cx - 4).attr('x2', cx + 4).attr('y1', hy(b)).attr('y2', hy(b)).attr('stroke', '#333'));
  });
  // legend
  ['supports', 'excludes'].forEach((k, i) => {
    const ly = 536 + i * 20;
    g.append('rect').attr('x', 913).attr('y', ly).attr('width', 30).attr('height', 13)
      .attr('fill', `url(#hatch-${k})`).attr('stroke', '#333').attr('stroke-width', 1);
    const t = g.append('text').attr('x', 947).attr('y', ly + 11).attr('font-family', AX).attr('font-size', 14).attr('fill', '#222');
    rich(t, ratioLegend[i], 14);
  });
  // y title
  const yt = g.append('text').attr('transform', `translate(866,690) rotate(-90)`).attr('text-anchor', 'middle')
    .attr('font-family', AX).attr('font-size', 17).attr('fill', '#1a1a1a');
  rich(yt, 'O_{2} ratio (Production:Consumption)', 17);
  // title & letter
  const tt = g.append('text').attr('x', 947).attr('y', 518).attr('font-family', CAL).attr('font-size', 30).attr('fill', '#111');
  rich(tt, 'O_{2} Flux Ratio', 30);
  g.append('text').attr('x', 850).attr('y', 515).attr('font-family', AX).attr('font-size', 21)
    .attr('font-weight', 'bold').attr('fill', '#111').text('H');
})();
</script>
</body></html>
